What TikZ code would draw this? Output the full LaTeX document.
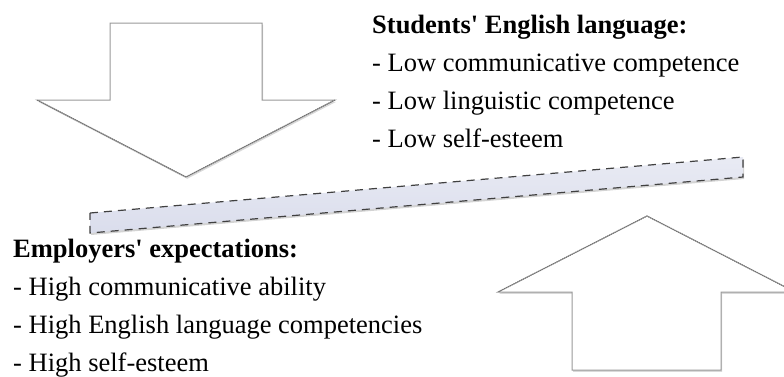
\documentclass[tikz,border=0pt]{standalone}
\usepackage{fontspec}
\setmainfont{Liberation Serif}
\usetikzlibrary{shadows}

\begin{document}
\begin{tikzpicture}[
		x=1pt, y=-1pt,
		every node/.style={font=\fontsize{26.5}{38}\selectfont, inner sep=0pt, anchor=base west},
		bigarrow/.style={fill=white, draw=gray!80, line width=1pt, line join=miter,
			drop shadow={shadow xshift=1.2pt, shadow yshift=-1.8pt, opacity=0.3}},
		arrowtip/.style={draw=gray!90!black, line width=1.1pt, densely dotted},
		beam/.style={top color=beamblue!60, bottom color=beamblue, draw=black!75, line width=1.2pt,
			dash pattern=on 8pt off 6pt,
			drop shadow={shadow xshift=1pt, shadow yshift=-2pt, opacity=0.35}}
		]
		\definecolor{beamblue}{RGB}{218,221,236}
		\useasboundingbox (0,0) rectangle (784,376);
		\clip (0,0) rectangle (784,376);
		% down arrow
		\filldraw[bigarrow] (110,23) -- (262,23) -- (262,100) -- (335,100) -- (186,177)
			-- (37,100) -- (110,100) -- cycle;
		\draw[arrowtip] (335,100) -- (186,177) -- (37,100);
		% up arrow
		\filldraw[bigarrow] (572,370) -- (721,370) -- (721,292) -- (795,292) -- (647,216)
			-- (498,292) -- (572,292) -- cycle;
		\draw[arrowtip] (795,292) -- (647,216) -- (498,292);
		% beam
		\path[beam] (90,213) -- (743,157) -- (743,177) -- (90,233) -- cycle;
		% students
		\node (stuhead) at (372,33) {\textbf{Students\textquotesingle{} English language:}};
		\foreach \txt [count=\i] in {Low communicative competence, Low linguistic competence, Low self-esteem}
			\node (stu\i) at (372,33+38*\i) {- \txt};
		% employers
		\node (emphead) at (13,257) {\textbf{Employers\textquotesingle{} expectations:}};
		\foreach \txt [count=\i] in {High communicative ability, High English language competencies, High self-esteem}
			\node (emp\i) at (13,257+38*\i) {- \txt};
\end{tikzpicture}
\end{document}
